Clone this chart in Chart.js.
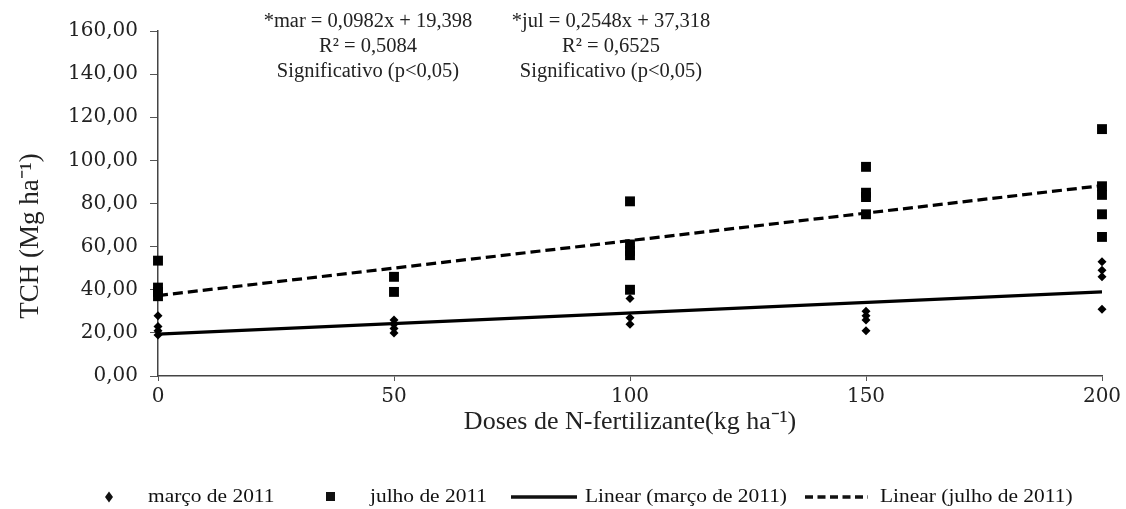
<!DOCTYPE html>
<html>
<head>
<meta charset="utf-8">
<script src="https://cdn.jsdelivr.net/npm/chart.js@4/dist/chart.umd.min.js"></script>
<style>
  html, body { margin: 0; padding: 0; background: #fff; overflow: hidden; }
  #wrap { width: 1140px; height: 509px; }
</style>
</head>
<body>
<div id="wrap"><canvas id="tchChart"></canvas></div>
<script>
// doses (kg ha-1) and TCH values, one list per dose
const doses = [0, 50, 100, 150, 200];
const marco2011 = [[28, 23, 21, 19], [26, 24, 22, 20], [36, 27, 24], [30, 28, 26, 21], [53, 49, 46, 31]];
const julho2011 = [[53.5, 41, 39, 37], [46, 39], [81, 61, 58, 56, 40], [97, 85, 83, 75], [114.5, 88, 84, 75, 64.5]];

// trend line ends (x = 0 and x = 200)
const trendX = [0, 200];
const trendMarco = [19.4, 39.0];
const trendJulho = [37.3, 88.3];

const eqMarco = ['*mar = 0,0982x + 19,398', 'R² = 0,5084', 'Significativo (p<0,05)'];
const eqJulho = ['*jul = 0,2548x + 37,318', 'R² = 0,6525', 'Significativo (p<0,05)'];

const toPoints = (groups) => groups.flatMap((vals, i) => vals.map(v => ({ x: doses[i], y: v })));
const toLine = (ys) => trendX.map((x, i) => ({ x: x, y: ys[i] }));

// text a little wider than the font, like the original picture
function wideText(ctx, text, x, y, sx) {
  ctx.save();
  ctx.translate(x, y);
  ctx.scale(sx, 1);
  ctx.fillText(text, 0, 0);
  ctx.restore();
}

const extras = {
  id: 'extras',
  afterDraw(chart) {
    const ctx = chart.ctx;
    ctx.save();
    ctx.fillStyle = '#222';
    ctx.textAlign = 'center';
    ctx.textBaseline = 'middle';
    ctx.font = '20.5px "Liberation Serif"';
    eqMarco.forEach((t, i) => ctx.fillText(t, 368, 22 + i * 25));
    eqJulho.forEach((t, i) => ctx.fillText(t, 611, 22 + i * 25));

    // y axis title
    ctx.save();
    ctx.translate(31, 236);
    ctx.rotate(-Math.PI / 2);
    ctx.font = '27px "Liberation Serif"';
    ctx.fillText('TCH (Mg ha⁻¹)', 0, 0);
    ctx.restore();

    // legend
    const ly = 497;
    const ds = chart.data.datasets;
    ctx.textAlign = 'left';
    ctx.font = '18px "Liberation Serif"';
    ctx.fillStyle = '#111';
    ctx.beginPath();
    ctx.moveTo(109, ly - 5.5); ctx.lineTo(113, ly); ctx.lineTo(109, ly + 5.5); ctx.lineTo(105, ly);
    ctx.closePath(); ctx.fill();
    wideText(ctx, ds[0].label, 148, ly, 1.19);
    ctx.fillRect(326, ly - 5, 9, 9);
    wideText(ctx, ds[1].label, 370, ly, 1.19);
    ctx.strokeStyle = '#111';
    ctx.lineWidth = 3.5;
    ctx.beginPath(); ctx.moveTo(511, ly); ctx.lineTo(577, ly); ctx.stroke();
    wideText(ctx, ds[2].label, 585, ly, 1.19);
    ctx.setLineDash([8, 4.5]);
    ctx.beginPath(); ctx.moveTo(805, ly); ctx.lineTo(868, ly); ctx.stroke();
    ctx.setLineDash([]);
    wideText(ctx, ds[3].label, 880, ly, 1.19);
    ctx.restore();
  }
};

const chart = new Chart(document.getElementById('tchChart'), {
  type: 'scatter',
  data: {
    datasets: [
      {
        label: 'março de 2011',
        data: toPoints(marco2011),
        pointStyle: 'rectRot',
        pointRadius: 4.5,
        pointBorderWidth: 0,
        backgroundColor: '#000',
        borderColor: '#000',
        clip: false
      },
      {
        label: 'julho de 2011',
        data: toPoints(julho2011),
        pointStyle: 'rect',
        pointRadius: 7,
        pointBorderWidth: 0,
        backgroundColor: '#000',
        borderColor: '#000',
        clip: false
      },
      {
        label: 'Linear (março de 2011)',
        data: toLine(trendMarco),
        showLine: true,
        pointRadius: 0,
        borderColor: '#000',
        borderWidth: 3.2
      },
      {
        label: 'Linear (julho de 2011)',
        data: toLine(trendJulho),
        showLine: true,
        pointRadius: 0,
        borderColor: '#000',
        borderWidth: 3.2,
        borderDash: [10, 5]
      }
    ]
  },
  options: {
    responsive: true,
    maintainAspectRatio: false,
    animation: false,
    layout: {
      padding: { left: 0, top: 31, right: 38, bottom: 63 }
    },
    scales: {
      x: {
        type: 'linear',
        min: 0,
        max: 200,
        afterFit: (s) => { s.height = 70; },
        border: { display: true, color: '#444', width: 1.5 },
        grid: { drawOnChartArea: false, drawTicks: true, tickLength: 5, color: '#555' },
        ticks: {
          stepSize: 50,
          padding: 4,
          color: '#222',
          font: { family: 'DejaVu Serif', size: 20 }
        },
        title: {
          display: true,
          text: 'Doses de N-fertilizante(kg ha⁻¹)',
          color: '#222',
          padding: { top: 0, bottom: 8 },
          font: { family: 'Liberation Serif', size: 26 }
        }
      },
      y: {
        min: 0,
        max: 160,
        afterFit: (s) => { s.width = 158; },
        border: { display: true, color: '#444', width: 1.5 },
        grid: { drawOnChartArea: false, drawTicks: true, tickLength: 8, color: '#555' },
        ticks: {
          stepSize: 20,
          padding: 12,
          color: '#222',
          font: { family: 'DejaVu Serif', size: 20 },
          callback: (v) => v.toFixed(2).replace('.', ',')
        },
        title: { display: false }
      }
    },
    plugins: {
      legend: { display: false },
      tooltip: { enabled: false }
    }
  },
  plugins: [extras]
});
</script>
</body>
</html>
